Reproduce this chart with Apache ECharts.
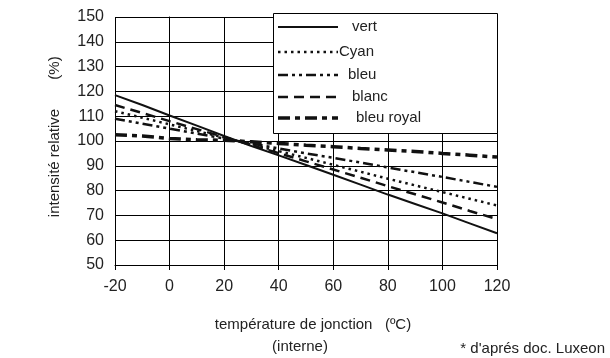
<!DOCTYPE html>
<html>
<head>
<meta charset="utf-8">
<script src="https://cdn.jsdelivr.net/npm/echarts@6/dist/echarts.min.js"></script>
<style>html,body{margin:0;padding:0;background:#fff;}#c{width:610px;height:358px;}</style>
</head>
<body>
<div id="c"></div>
<script>
var temps = [-20,-10,0,10,20,30,40,50,60,70,80,90,100,110,120];
var vert = [118.5,114.5,110.3,106.2,102,98,94.2,90.3,86.4,82.4,78.4,74.6,70.8,66.8,62.8];
var cyan = [112,109.4,106.7,104,101.4,98.6,95.9,93.2,90.4,87.6,84.8,82.1,79.4,76.7,74];
var bleu = [109,107,105,103,101,99,97,95,93.2,91.3,89.3,87.4,85.5,83.5,81.5];
var blanc = [114.5,111.3,108,104.8,101.6,98.4,95.1,91.8,88.5,85.2,81.8,78.5,75.2,71.8,68.5];
var bleuRoyal = [102.5,102,101,100.5,100.3,99.7,99,98.3,97.7,97,96.4,95.8,95,94.3,93.5];
var seriesNames = ['vert','Cyan','bleu','blanc','bleu royal'];
var yTicks = [50,60,70,80,90,100,110,120,130,140,150];
var xTicks = [-20,0,20,40,60,80,100,120];

var styles = [
  {width:2, dash:'solid'},
  {width:2.5, dash:[2.5,4]},
  {width:2.5, dash:[10,4,3,4,3,4]},
  {width:2.5, dash:[10,6]},
  {width:3.5, dash:[12,5,5,5]}
];
var values = [vert, cyan, bleu, blanc, bleuRoyal];
var FONT = '"Liberation Sans", Arial, sans-serif';
var TXT = '#222';

function pairs(arr){ return temps.map(function(t,i){ return [t, arr[i]]; }); }

var series = values.map(function(v,i){
  return {
    name: seriesNames[i], type:'line', data: pairs(v), showSymbol:false, symbol:'none',
    lineStyle:{color:'#111', width:styles[i].width, type:styles[i].dash, cap:'butt'},
    z: 3
  };
});

var legendY = [27,52,75,97,118];
var legendTextX = [352,339,348,352,356];
var graphics = [{
  type:'rect', shape:{x:273.5,y:13.5,width:224,height:120},
  style:{fill:'#fff', stroke:'#000', lineWidth:1}, z:100
}];
seriesNames.forEach(function(n,i){
  graphics.push({type:'line', shape:{x1:278,y1:legendY[i],x2:338,y2:legendY[i]},
    style:{stroke:'#111', lineWidth:styles[i].width, lineDash: styles[i].dash==='solid'?null:styles[i].dash}, z:101});
  graphics.push({type:'text', x:legendTextX[i], y:legendY[i], style:{text:n, font:'15px '+FONT, fill:TXT, textVerticalAlign:'middle'}, z:101});
});
graphics.push({type:'text', x:55, y:163, rotation:Math.PI/2, style:{text:'intensité relative', font:'15px '+FONT, fill:TXT, textAlign:'center', textVerticalAlign:'middle'}});
graphics.push({type:'text', x:55, y:68, rotation:Math.PI/2, style:{text:'(%)', font:'15px '+FONT, fill:TXT, textAlign:'center', textVerticalAlign:'middle'}});
graphics.push({type:'text', x:313, y:325, style:{text:'température de jonction   (ºC)', font:'15px '+FONT, fill:TXT, textAlign:'center', textVerticalAlign:'middle'}});
graphics.push({type:'text', x:300, y:347, style:{text:'(interne)', font:'15px '+FONT, fill:TXT, textAlign:'center', textVerticalAlign:'middle'}});
graphics.push({type:'text', x:605, y:349, style:{text:"* d'aprés doc. Luxeon", font:'15px '+FONT, fill:TXT, textAlign:'right', textVerticalAlign:'middle'}});

var chart = echarts.init(document.getElementById('c'));
chart.setOption({
  animation:false,
  backgroundColor:'#fff',
  grid:{left:115, right:113, top:17, bottom:93, containLabel:false},
  xAxis:{type:'value', min:xTicks[0], max:xTicks[xTicks.length-1], interval:20,
    axisLine:{lineStyle:{color:'#000',width:1}}, axisTick:{show:true,length:5,lineStyle:{color:'#000'}},
    axisLabel:{color:TXT, fontSize:16, fontFamily:FONT, margin:14, showMinLabel:true, showMaxLabel:true},
    splitLine:{show:true, lineStyle:{color:'#000', width:1}}},
  yAxis:{type:'value', min:yTicks[0], max:yTicks[yTicks.length-1], interval:10,
    axisLine:{show:true, lineStyle:{color:'#000',width:1}}, axisTick:{show:true,length:5,lineStyle:{color:'#000'}},
    axisLabel:{color:TXT, fontSize:16, fontFamily:FONT, margin:11},
    splitLine:{show:true, lineStyle:{color:'#000', width:1}}},
  series: series,
  graphic: graphics
});
</script>
</body>
</html>
